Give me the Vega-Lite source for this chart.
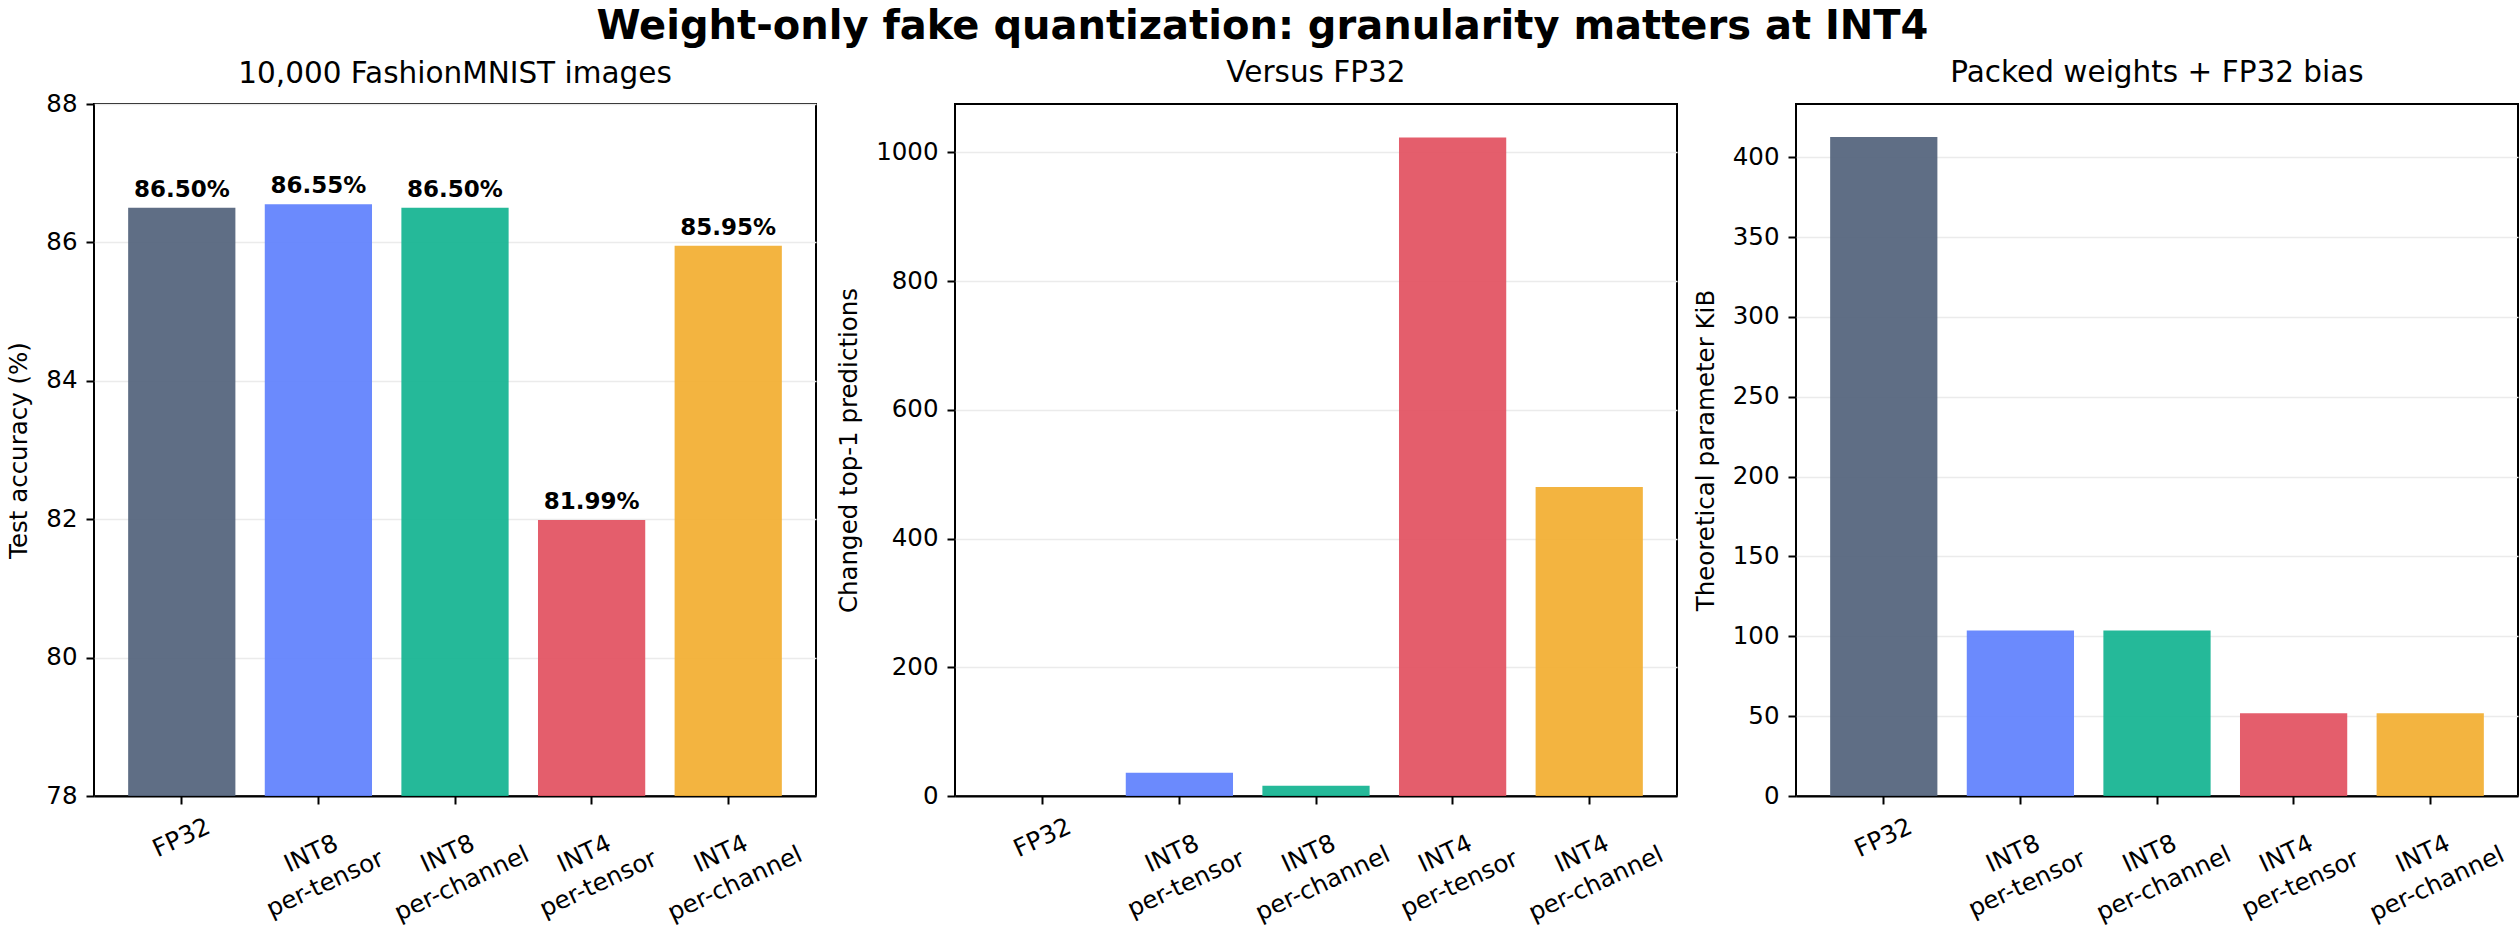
{
  "$schema": "https://vega.github.io/schema/vega-lite/v6.json",
  "description": "Weight-only fake quantization: accuracy, changed predictions and size per scheme.",
  "padding": {"left": 5, "top": 6, "right": 0, "bottom": 0},
  "datasets": {
    "runs": [
      {"method": "FP32", "acc": 86.50, "label": "86.50%", "changed": 0, "kib": 412.8},
      {"method": "INT8\nper-tensor", "acc": 86.55, "label": "86.55%", "changed": 36, "kib": 103.6},
      {"method": "INT8\nper-channel", "acc": 86.50, "label": "86.50%", "changed": 16, "kib": 103.6},
      {"method": "INT4\nper-tensor", "acc": 81.99, "label": "81.99%", "changed": 1023, "kib": 51.8},
      {"method": "INT4\nper-channel", "acc": 85.95, "label": "85.95%", "changed": 480, "kib": 51.8}
    ]
  },
  "title": {
    "text": "Weight-only fake quantization: granularity matters at INT4",
    "fontSize": 40,
    "fontWeight": "bold",
    "anchor": "middle",
    "frame": "bounds",
    "baseline": "alphabetic",
    "offset": -22
  },
  "spacing": 18,
  "hconcat": [
    {
      "width": 722,
      "height": 692,
      "data": {"name": "runs"},
      "title": {"text": "10,000 FashionMNIST images", "frame": "group", "offset": 2},
      "encoding": {
        "x": {
          "field": "method",
          "type": "nominal",
          "sort": null,
          "title": null,
          "scale": {"paddingInner": 0.215, "paddingOuter": 0.25}
        },
        "y": {
          "field": "acc",
          "type": "quantitative",
          "title": "Test accuracy (%)",
          "scale": {"domain": [78, 88], "zero": false, "nice": false},
          "axis": {"values": [78, 80, 82, 84, 86, 88], "format": "d"}
        }
      },
      "layer": [
        {
          "mark": {"type": "bar", "opacity": 0.92, "clip": true},
          "encoding": {
            "color": {
              "field": "method",
              "type": "nominal",
              "sort": null,
              "legend": null,
              "scale": {
                "domain": ["FP32", "INT8\nper-tensor", "INT8\nper-channel", "INT4\nper-tensor", "INT4\nper-channel"],
                "range": ["#51627b", "#5e80fd", "#12b390", "#e2505f", "#f2ae30"]
              }
            }
          }
        },
        {
          "mark": {"type": "text", "fontSize": 23, "fontWeight": "bold", "baseline": "alphabetic", "dy": -11, "color": "black"},
          "encoding": {"text": {"field": "label"}}
        }
      ]
    },
    {
      "spacing": 14,
      "hconcat": [
        {
          "width": 722,
          "height": 692,
          "data": {"name": "runs"},
          "title": {"text": "Versus FP32", "frame": "group"},
          "mark": {"type": "bar", "opacity": 0.92},
          "encoding": {
            "x": {
              "field": "method",
              "type": "nominal",
              "sort": null,
              "title": null,
              "scale": {"paddingInner": 0.215, "paddingOuter": 0.25}
            },
            "y": {
              "field": "changed",
              "type": "quantitative",
              "title": "Changed top-1 predictions",
              "scale": {"domain": [0, 1075], "nice": false},
              "axis": {"values": [0, 200, 400, 600, 800, 1000], "format": "d"}
            },
            "color": {
              "field": "method",
              "type": "nominal",
              "sort": null,
              "legend": null,
              "scale": {
                "domain": ["FP32", "INT8\nper-tensor", "INT8\nper-channel", "INT4\nper-tensor", "INT4\nper-channel"],
                "range": ["#51627b", "#5e80fd", "#12b390", "#e2505f", "#f2ae30"]
              }
            }
          }
        },
        {
          "width": 722,
          "height": 692,
          "data": {"name": "runs"},
          "title": {"text": "Packed weights + FP32 bias", "frame": "group"},
          "mark": {"type": "bar", "opacity": 0.92},
          "encoding": {
            "x": {
              "field": "method",
              "type": "nominal",
              "sort": null,
              "title": null,
              "scale": {"paddingInner": 0.215, "paddingOuter": 0.25}
            },
            "y": {
              "field": "kib",
              "type": "quantitative",
              "title": "Theoretical parameter KiB",
              "scale": {"domain": [0, 433.4], "nice": false},
              "axis": {"values": [0, 50, 100, 150, 200, 250, 300, 350, 400], "format": "d"}
            },
            "color": {
              "field": "method",
              "type": "nominal",
              "sort": null,
              "legend": null,
              "scale": {
                "domain": ["FP32", "INT8\nper-tensor", "INT8\nper-channel", "INT4\nper-tensor", "INT4\nper-channel"],
                "range": ["#51627b", "#5e80fd", "#12b390", "#e2505f", "#f2ae30"]
              }
            }
          }
        }
      ]
    }
  ],
  "config": {
    "font": "DejaVu Sans",
    "background": "white",
    "view": {"stroke": "black", "strokeWidth": 2},
    "title": {"fontSize": 29.5, "fontWeight": "normal", "color": "black", "baseline": "alphabetic", "offset": 16},
    "axis": {
      "labelFontSize": 24.5,
      "labelColor": "black",
      "titleFontSize": 24.5,
      "titleFontWeight": "normal",
      "titleColor": "black",
      "tickColor": "black",
      "tickWidth": 2,
      "tickSize": 8,
      "domainColor": "black",
      "domainWidth": 2,
      "gridColor": "#ebebeb",
      "gridWidth": 1.6,
      "zindex": 1
    },
    "axisX": {
      "grid": false,
      "labelAngle": -25,
      "labelAlign": "center",
      "labelBaseline": "middle",
      "labelLineHeight": 33,
      "labelPadding": {"condition": {"test": "datum.value == 'FP32'", "value": 34}, "value": 50},
      "labelOffset": {"condition": {"test": "datum.value == 'FP32'", "value": 0}, "value": -7},
      "labelExpr": "split(datum.label, '\\n')"
    },
    "axisY": {
      "grid": true,
      "domain": false,
      "labelPadding": 9,
      "titlePadding": 14
    }
  }
}
